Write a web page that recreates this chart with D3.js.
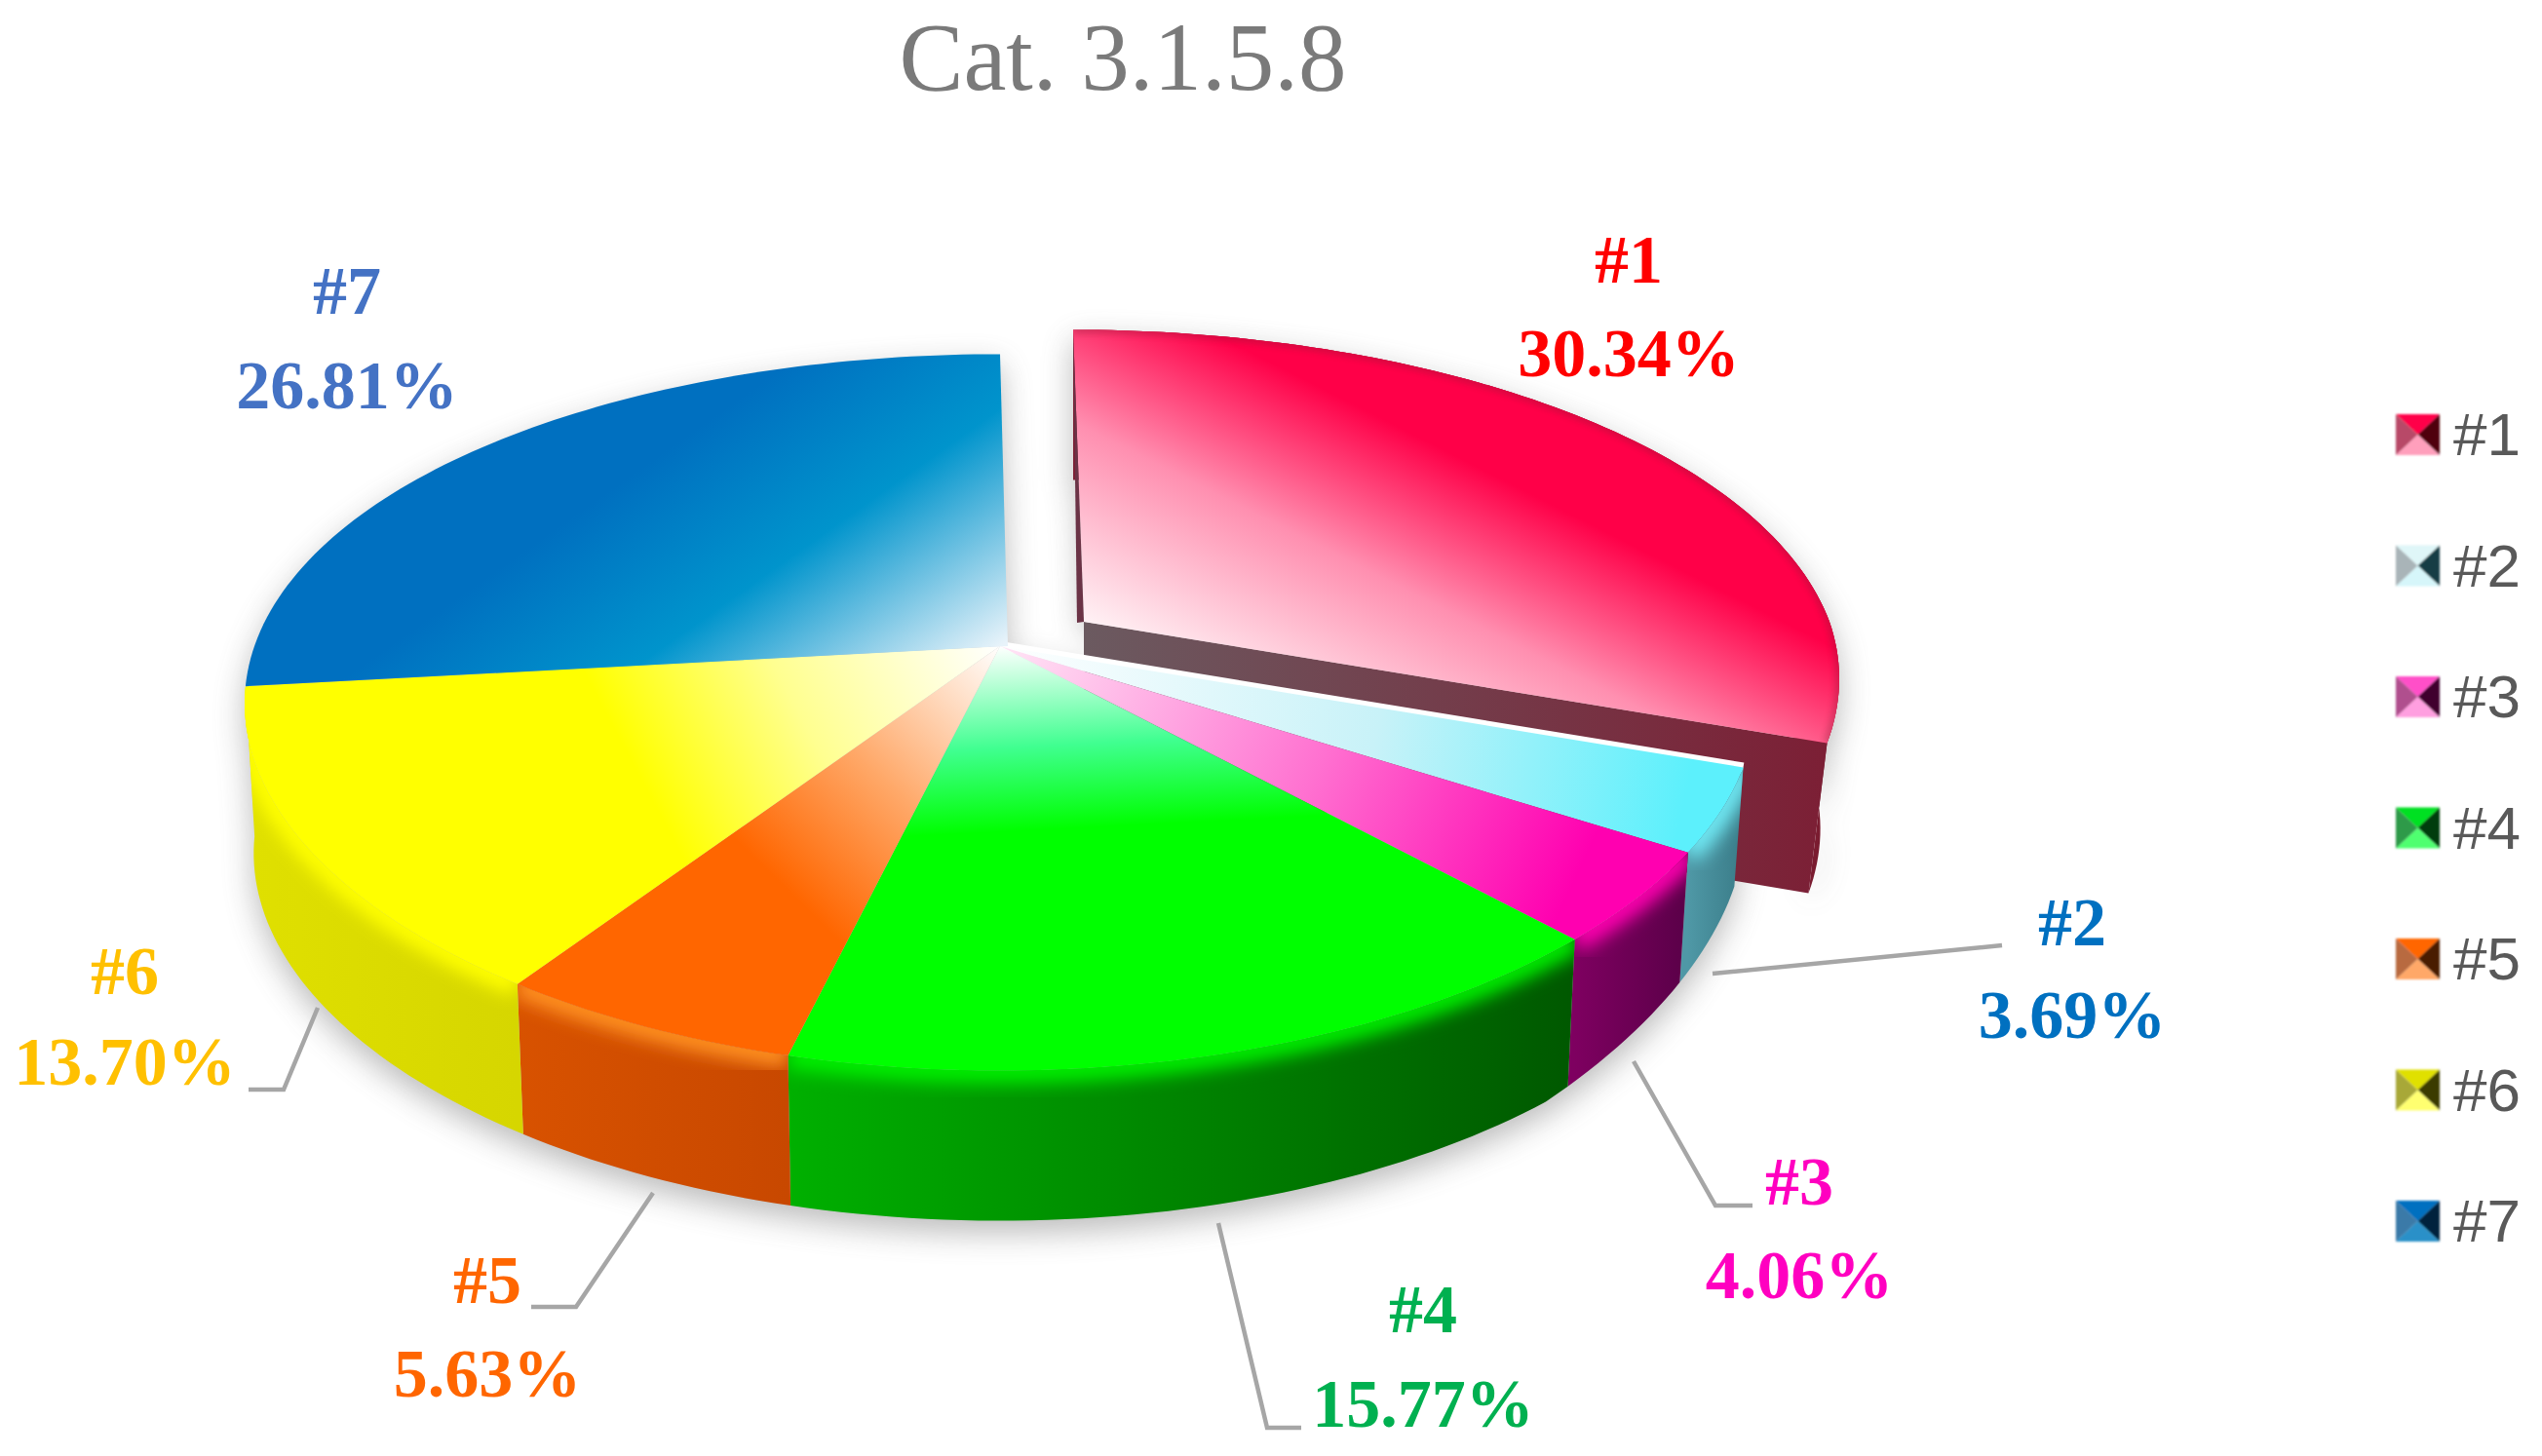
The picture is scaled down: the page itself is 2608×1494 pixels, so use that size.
<!DOCTYPE html>
<html><head><meta charset="utf-8">
<script src="https://cdn.jsdelivr.net/npm/d3@7/dist/d3.min.js"></script>
<style>html,body{margin:0;padding:0;background:#fff}svg{display:block}</style>
</head><body><svg id="c" width="2608" height="1494" viewBox="0 0 2608 1494"></svg>
<script>
// ---- data ----
const title = "Cat. 3.1.5.8";
const categories = ["#1","#2","#3","#4","#5","#6","#7"];
const shares = [30.34,3.69,4.06,15.77,5.63,13.70,26.81];
// ---- styles ----
const labelColors = ["#ff0000","#0070c0","#ff00c0","#00b050","#ff6600","#ffc000","#4472c4"];
const topStops = [
  ["#fff2f5","#ff8fb0","#ff0048"],
  ["#ffffff","#c8f2f8","#5cf0fc"],
  ["#ffe6f6","#ff70d0","#ff00b0"],
  ["#ffffff","#40ff90","#00ff00"],
  ["#ffffff","#ffa868","#ff6600"],
  ["#ffffff","#ffff90","#ffff00"],
  ["#e8f3fa","#0094cc","#0070c0"]
];
const sideStops = [
  ["#7e2036","#7a1c30"],["#4f98a6","#3a7c88"],["#7e0060","#5a0048"],
  ["#00b000","#005800"],["#d85200","#c84800"],["#e0e000","#d6d600"],["#004c80","#004c80"]
];
const rimColors = ["#e0103f","#70eaf5","#ff00b0","#00f000","#ff9020","#ffff00","#0070c0"];
const topRimOpacity = [.3,0,0,0,0,0,0];
const gradDir = [[.45,-.89],[.98,.2],[.9,.42],[.05,1],[-.7,.72],[-.88,.47],[-.58,-.82]];
const gradLen = [325,720,640,190,330,390,360];
const apexNudge = [0,0,0,0,0,0,8];
const swatchLeft = ["#b84a68","#a9b4b8","#b0508e","#2f9a4a","#b86a40","#a8a838","#3a7aa8"];
const swatchRight = ["#50000f","#123c44","#40002e","#003c10","#4a1a00","#3a3a00","#00243e"];
const swatchBottom = ["#ff9fbc","#d6f6fa","#ff9fe0","#50ff70","#ffa868","#ffff70","#2a90c8"];
const swatchTop = ["#ff0048","#dff6f8","#ff50c8","#00e020","#ff6600","#e0e000","#0070c0"];
// layout of the labels: [centre x, baseline of name, baseline of value]
const labelPos = [[1671,290,386],[2126,970,1065],[1846,1236,1332],[1460,1367,1464],[500,1337,1433],[128,1020,1113],[356,322,419]];
const leaders = [
  null,
  [[1757,999],[2054,970]],
  [[1676,1089],[1760,1237],[1798,1237]],
  [[1250,1255],[1300,1465],[1335,1465]],
  [[670,1224],[591,1341],[545,1341]],
  [[326,1034],[291,1118],[255,1118]],
  null
];

const svg = d3.select("#c");
const defs = svg.append("defs");
const blur = (id,s)=>defs.append("filter").attr("id",id).attr("x","-20%").attr("y","-20%").attr("width","140%").attr("height","140%")
  .attr("filterUnits","objectBoundingBox").append("feGaussianBlur").attr("stdDeviation",s);
blur("bShadow",16); blur("bRim",9); blur("bEdge",3); blur("bSwatch",1);

// projection of the tilted disc
const view = {ax:765, ay:355, kx:-0.16, ky:-0.185, depth:154};
const mainApex = {x:1026,y:663,tilt:0,shrink:0.012,taper:0.7}, explodedApex = {x:1112,y:638,tilt:11,shrink:0.025,taper:0};
function project(theta,r,z,apex){
  const u=r*Math.sin(theta), v=-r*Math.cos(theta);
  const d=view.depth*(1-apex.taper*Math.max(0,u-0.65));
  return [apex.x+view.ax*u/(1+view.kx*v)*(1-apex.shrink*z)+apex.tilt*Math.min(0,v),
          apex.y+view.ay*v/(1+view.ky*v)+d*z];
}
const line = d3.line();
const arcPts=(a0,a1,z,apex)=>{
  const n=Math.max(4,Math.ceil((a1-a0)/0.02));
  return d3.range(n+1).map(i=>project(a0+(a1-a0)*i/n,1,z,apex));
};
const pie = d3.pie().sort(null).value(d=>d);
const arcs = pie(shares).map((d,i)=>{
  const apex = i===0?explodedApex:mainApex;
  const top = arcPts(d.startAngle,d.endAngle,0,apex);
  const bot = arcPts(d.startAngle,d.endAngle,1,apex);
  return {i,apex,a0:d.startAngle,a1:d.endAngle,top,bot,
    topPath: line([[apex.x+apexNudge[i],apex.y],...top])+"Z",
    sidePath: line([...top,...bot.slice().reverse()])+"Z",
    rimPath: line(top)};
});

// gradients
arcs.forEach(a=>{
  const s=topStops[a.i], dir=gradDir[a.i], len=gradLen[a.i];
  const g=defs.append("linearGradient").attr("id","t"+a.i).attr("gradientUnits","userSpaceOnUse")
    .attr("x1",a.apex.x).attr("y1",a.apex.y).attr("x2",a.apex.x+dir[0]*len).attr("y2",a.apex.y+dir[1]*len);
  [0,.55,1].forEach((o,j)=>g.append("stop").attr("offset",o).attr("stop-color",s[j]));
  const xs=d3.extent(a.top,p=>p[0]);
  const h=defs.append("linearGradient").attr("id","s"+a.i).attr("gradientUnits","userSpaceOnUse")
    .attr("x1",xs[0]).attr("y1",0).attr("x2",xs[1]).attr("y2",0);
  sideStops[a.i].forEach((c,j)=>h.append("stop").attr("offset",j).attr("stop-color",c));
  defs.append("clipPath").attr("id","cs"+a.i).append("path").attr("d",a.sidePath);
  defs.append("clipPath").attr("id","ct"+a.i).append("path").attr("d",a.topPath);
});

// soft shadow under the whole pie
const shadow = svg.append("g").attr("filter","url(#bShadow)").attr("opacity",.4).attr("transform","translate(0,12)");
arcs.forEach(a=>{
  if(a.i!==6) shadow.append("path").attr("d",a.sidePath).attr("fill","#555");
  shadow.append("path").attr("d",a.topPath).attr("fill","#555");
});

function drawSide(a){
  const g=svg.append("g");
  g.append("path").attr("d",a.sidePath).attr("fill",`url(#s${a.i})`);
  g.append("g").attr("clip-path",`url(#cs${a.i})`).append("path").attr("d",a.rimPath)
    .attr("fill","none").attr("stroke",rimColors[a.i]).attr("stroke-width",26).attr("filter","url(#bRim)");
}
function drawTop(a){
  svg.append("path").attr("d",a.topPath).attr("fill",`url(#t${a.i})`);
  if(topRimOpacity[a.i]>0) svg.append("g").attr("clip-path",`url(#ct${a.i})`).append("path").attr("d",a.rimPath)
    .attr("fill","none").attr("stroke",sideStops[a.i][1]).attr("stroke-width",8).attr("opacity",topRimOpacity[a.i]).attr("filter","url(#bEdge)");
}

// exploded slice: outer side, cut wall, left sliver, top
const red = arcs[0];
defs.append("linearGradient").attr("id","wall").attr("gradientUnits","userSpaceOnUse")
  .attr("x1",red.apex.x).attr("y1",0).attr("x2",red.top[red.top.length-1][0]).attr("y2",0)
  .call(g=>{g.append("stop").attr("offset",0).attr("stop-color","#6b5a60");
            g.append("stop").attr("offset",1).attr("stop-color","#7c1f35");});
drawSide(red);
const wallPts=[[red.apex.x,red.apex.y],red.top[red.top.length-1],red.bot[red.bot.length-1],project(0,0,1,red.apex)];
svg.append("path").attr("d",line(wallPts)+"Z").attr("fill","url(#wall)");
drawTop(red);
svg.append("path").attr("d",line([red.top[0],[red.apex.x,red.apex.y],[red.apex.x-7,red.apex.y+1]])+"Z")
  .attr("fill","#6b3346");

// white seam and body of the remaining slices
const rest = arcs.slice(1);
svg.append("path").attr("d",line([[rest[0].apex.x,rest[0].apex.y],rest[0].top[0]]))
  .attr("fill","none").attr("stroke","#fff").attr("stroke-width",10);
rest.filter(a=>a.i!==6).forEach(drawSide);
rest.forEach(drawTop);

// title
svg.append("text").attr("x",1152).attr("y",92).attr("text-anchor","middle")
  .attr("font-family","'Liberation Serif',serif").attr("font-size",99).attr("fill","#7a7a7a").text(title);

// leader lines
svg.append("g").selectAll("path").data(leaders.filter(Boolean)).join("path")
  .attr("d",d=>line(d)).attr("fill","none").attr("stroke","#a6a6a6").attr("stroke-width",4.5);

// labels
const fmt=d3.format(".2f");
const lab=svg.append("g").attr("font-family","'Liberation Serif',serif").attr("font-weight","bold")
  .attr("font-size",70).attr("text-anchor","middle");
categories.forEach((c,i)=>{
  const [x,y1,y2]=labelPos[i];
  lab.append("text").attr("x",x).attr("y",y1).attr("fill",labelColors[i]).text(c);
  lab.append("text").attr("x",x).attr("y",y2).attr("fill",labelColors[i]).text(fmt(shares[i])+"%");
});

// legend
const yLegend=d3.scalePoint().domain(categories).range([446,1253]);
const sw=45, sh=42, sx=2458;
categories.forEach((c,i)=>{
  const cy=yLegend(c), x0=sx,x1=sx+sw,y0=cy-sh/2,y1=cy+sh/2,mx=sx+sw/2;
  const g=svg.append("g").attr("filter","url(#bSwatch)");
  const tri=(pts,f)=>g.append("path").attr("d",line(pts)+"Z").attr("fill",f);
  tri([[x0,y0],[x1,y0],[mx,cy]],swatchTop[i]);
  tri([[x1,y0],[x1,y1],[mx,cy]],swatchRight[i]);
  tri([[x0,y1],[x1,y1],[mx,cy]],swatchBottom[i]);
  tri([[x0,y0],[x0,y1],[mx,cy]],swatchLeft[i]);
  svg.append("text").attr("x",2517).attr("y",cy+21).attr("font-family","'Liberation Sans',sans-serif")
    .attr("font-size",62).attr("fill","#595959").text(c);
});
</script></body></html>
